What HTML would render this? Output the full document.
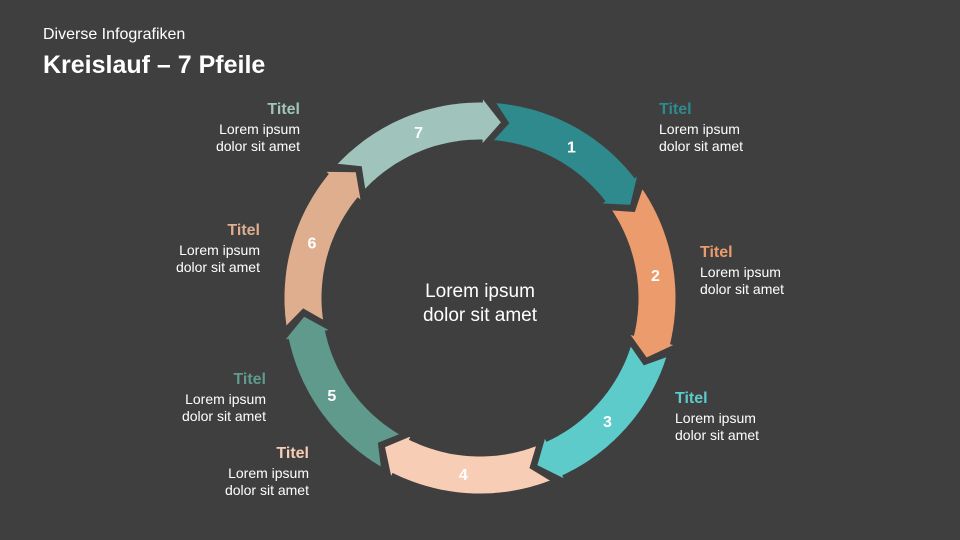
<!DOCTYPE html>
<html><head><meta charset="utf-8"><style>
body{margin:0;background:#3f3f3f;}
#w{position:relative;width:960px;height:540px;overflow:hidden;background:#3f3f3f;font-family:"Liberation Sans",sans-serif;color:#fff;}
.t{position:absolute;font-size:14px;line-height:17px;}
.t b{display:block;font-size:16px;line-height:20px;margin-bottom:1px;}
.r{text-align:right;}
</style></head><body><div id="w">
<div style="position:absolute;left:43px;top:26px;font-size:16px;">Diverse Infografiken</div>
<div style="position:absolute;left:43px;top:51px;font-size:25px;font-weight:bold;">Kreislauf – 7 Pfeile</div>
<svg id="s" width="960" height="540" style="position:absolute;left:0;top:0"></svg>
<div style="position:absolute;left:380px;top:280px;width:200px;text-align:center;font-size:19px;line-height:24px;">Lorem ipsum<br>dolor sit amet</div>
<div class="t" style="left:659px;top:100px"><b style="color:#2e8a8c">Titel</b>Lorem ipsum<br>dolor sit amet</div>
<div class="t" style="left:700px;top:243px"><b style="color:#eb9b6c">Titel</b>Lorem ipsum<br>dolor sit amet</div>
<div class="t" style="left:675px;top:389px"><b style="color:#5ecbcb">Titel</b>Lorem ipsum<br>dolor sit amet</div>
<div class="t r" style="right:651px;top:444px"><b style="color:#f7cdb5">Titel</b>Lorem ipsum<br>dolor sit amet</div>
<div class="t r" style="right:694px;top:370px"><b style="color:#5f9a8c">Titel</b>Lorem ipsum<br>dolor sit amet</div>
<div class="t r" style="right:700px;top:221px"><b style="color:#deae8e">Titel</b>Lorem ipsum<br>dolor sit amet</div>
<div class="t r" style="right:660px;top:100px"><b style="color:#a0c4bb">Titel</b>Lorem ipsum<br>dolor sit amet</div>
</div>
<script>
var cx=480,cy=298,Ro=197,Ri=157,Rm=177,H=6;
var cols=["#2e8a8c","#eb9b6c","#5ecbcb","#f7cdb5","#5f9a8c","#deae8e","#a0c4bb"];
function P(r,a){a=a*Math.PI/180;return [(cx+r*Math.sin(a)).toFixed(1),(cy-r*Math.cos(a)).toFixed(1)].join(",");}
var s="",step=360/7,base=7.4;
for(var i=0;i<7;i++){
 var T0=base+step*i, T1=base+step*(i+1);
 var ts=T0-3.5, he=T1-7, pts=[];
 for(var a=ts;a<=he;a+=1)pts.push(P(Ro,a));
 pts.push(P(Ro,he));pts.push(P(Ro+H,he));pts.push(P(Rm,T1));pts.push(P(Ri-H,he));pts.push(P(Ri,he));
 for(var a=he;a>=ts;a-=1)pts.push(P(Ri,a));
 pts.push(P(Ri,ts));pts.push(P(Rm,T0+1.5));
 s+='<polygon points="'+pts.join(" ")+'" fill="'+cols[i]+'" stroke="#3f3f3f" stroke-width="3" stroke-linejoin="miter"/>';
 var m=P(Rm,(T0+T1)/2-2).split(",");
 s+='<text x="'+m[0]+'" y="'+(+m[1]+6)+'" text-anchor="middle" font-family="Liberation Sans, sans-serif" font-weight="bold" font-size="16" fill="#fff">'+(i+1)+'</text>';
}
document.getElementById("s").innerHTML=s;
</script>
</body></html>
